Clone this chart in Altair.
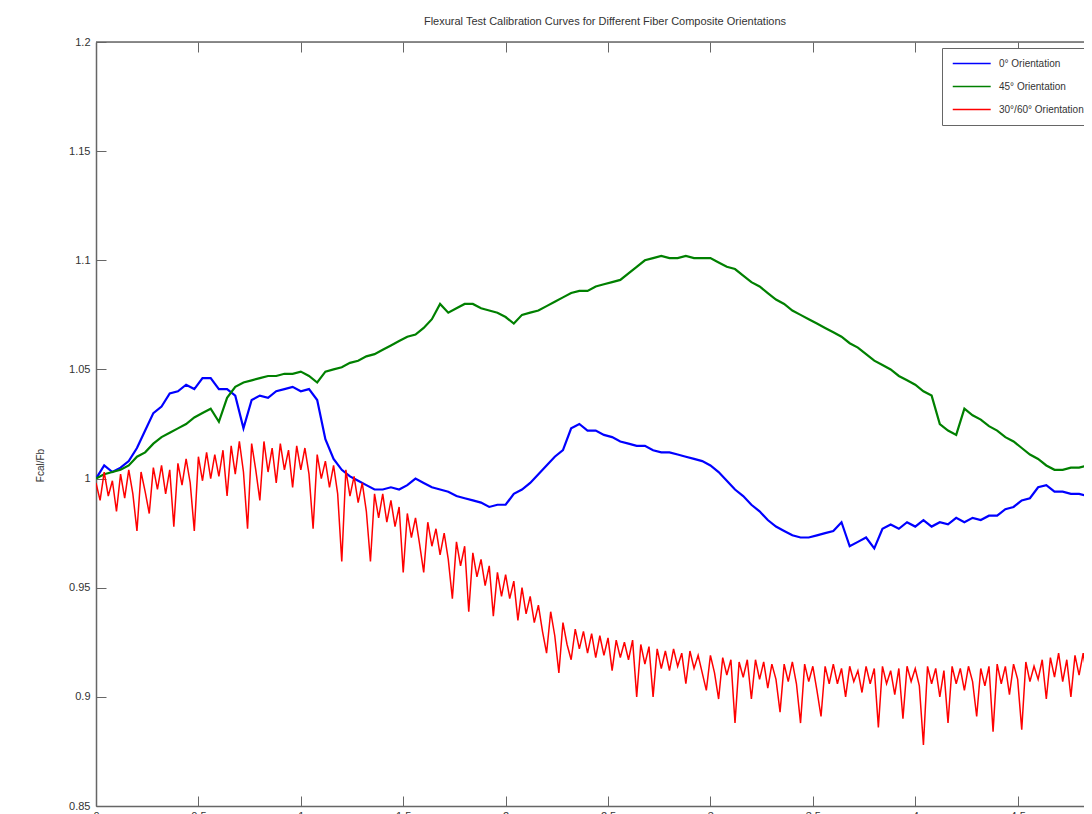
import altair as alt
import pandas as pd

TITLE = "Flexural Test Calibration Curves for Different Fiber Composite Orientations"
Y_TITLE = "Fcal/Fb"
SERIES = ["0° Orientation", "45° Orientation", "30°/60° Orientation"]
COLORS = ["#0000ff", "#008000", "#ff0000"]
Y_TICKS = [0.85, 0.9, 0.95, 1.0, 1.05, 1.1, 1.15, 1.2]
X_TICKS = [0, 0.5, 1, 1.5, 2, 2.5, 3, 3.5, 4, 4.5]
X_DOMAIN = [0, 4.824]
Y_DOMAIN = [0.85, 1.2]

BLUE_STEP = 0.04
blue = [
    1.000, 1.006, 1.003, 1.005, 1.008, 1.014, 1.022, 1.030, 1.033, 1.039,
    1.040, 1.043, 1.041, 1.046, 1.046, 1.041, 1.041, 1.038, 1.023, 1.036,
    1.038, 1.037, 1.040, 1.041, 1.042, 1.040, 1.041, 1.036, 1.018, 1.009,
    1.004, 1.001, 0.999, 0.997, 0.995, 0.995, 0.996, 0.995, 0.997, 1.000,
    0.998, 0.996, 0.995, 0.994, 0.992, 0.991, 0.990, 0.989, 0.987, 0.988,
    0.988, 0.993, 0.995, 0.998, 1.002, 1.006, 1.010, 1.013, 1.023, 1.025,
    1.022, 1.022, 1.020, 1.019, 1.017, 1.016, 1.015, 1.015, 1.013, 1.012,
    1.012, 1.011, 1.010, 1.009, 1.008, 1.006, 1.003, 0.999, 0.995, 0.992,
    0.988, 0.985, 0.981, 0.978, 0.976, 0.974, 0.973, 0.973, 0.974, 0.975,
    0.976, 0.980, 0.969, 0.971, 0.973, 0.968, 0.977, 0.979, 0.977, 0.980,
    0.978, 0.981, 0.978, 0.980, 0.979, 0.982, 0.980, 0.982, 0.981, 0.983,
    0.983, 0.986, 0.987, 0.990, 0.991, 0.996, 0.997, 0.994, 0.994, 0.993,
    0.993, 0.992, 0.992, 0.992, 0.991,
]

GREEN_STEP = 0.04
green = [
    1.000, 1.002, 1.003, 1.004, 1.006, 1.010, 1.012, 1.016, 1.019, 1.021,
    1.023, 1.025, 1.028, 1.030, 1.032, 1.026, 1.037, 1.042, 1.044, 1.045,
    1.046, 1.047, 1.047, 1.048, 1.048, 1.049, 1.047, 1.044, 1.049, 1.050,
    1.051, 1.053, 1.054, 1.056, 1.057, 1.059, 1.061, 1.063, 1.065, 1.066,
    1.069, 1.073, 1.080, 1.076, 1.078, 1.080, 1.080, 1.078, 1.077, 1.076,
    1.074, 1.071, 1.075, 1.076, 1.077, 1.079, 1.081, 1.083, 1.085, 1.086,
    1.086, 1.088, 1.089, 1.090, 1.091, 1.094, 1.097, 1.100, 1.101, 1.102,
    1.101, 1.101, 1.102, 1.101, 1.101, 1.101, 1.099, 1.097, 1.096, 1.093,
    1.090, 1.088, 1.085, 1.082, 1.080, 1.077, 1.075, 1.073, 1.071, 1.069,
    1.067, 1.065, 1.062, 1.060, 1.057, 1.054, 1.052, 1.050, 1.047, 1.045,
    1.043, 1.040, 1.038, 1.025, 1.022, 1.020, 1.032, 1.029, 1.027, 1.024,
    1.022, 1.019, 1.017, 1.014, 1.011, 1.009, 1.006, 1.004, 1.004, 1.005,
    1.005, 1.006, 1.006, 1.007, 1.007,
]

RED_STEP = 0.02
red = [
    0.998, 0.990, 1.003, 0.992, 0.999, 0.985, 1.002, 0.991, 1.004, 0.993,
    0.976, 1.003, 0.994, 0.984, 1.005, 0.995, 1.006, 0.993, 1.004, 0.978,
    1.007, 0.997, 1.009, 0.998, 0.976, 1.010, 0.999, 1.012, 1.000, 1.011,
    1.001, 1.013, 0.992, 1.015, 1.002, 1.017, 1.003, 0.977, 1.016, 1.004,
    0.990, 1.017, 1.003, 1.014, 0.998, 1.016, 1.004, 1.013, 0.996, 1.015,
    1.004, 1.014, 1.002, 0.977, 1.011, 1.000, 1.008, 0.996, 1.006, 0.993,
    0.962, 1.004, 0.992, 1.001, 0.989, 0.998, 0.985, 0.962, 0.993, 0.982,
    0.993, 0.980, 0.990, 0.978, 0.987, 0.957, 0.984, 0.973, 0.982, 0.970,
    0.957, 0.980, 0.969, 0.977, 0.965, 0.975, 0.963, 0.945, 0.971, 0.960,
    0.969, 0.939, 0.966, 0.955, 0.963, 0.951, 0.960, 0.937, 0.957, 0.946,
    0.956, 0.945, 0.953, 0.935, 0.950, 0.938, 0.946, 0.934, 0.942, 0.930,
    0.920, 0.939, 0.928, 0.911, 0.934, 0.924, 0.917, 0.931, 0.922, 0.930,
    0.920, 0.929, 0.918, 0.928, 0.919, 0.927, 0.912, 0.926, 0.918, 0.925,
    0.917, 0.926, 0.900, 0.924, 0.915, 0.923, 0.900, 0.922, 0.913, 0.921,
    0.912, 0.922, 0.914, 0.920, 0.906, 0.921, 0.913, 0.919, 0.911, 0.903,
    0.919, 0.911, 0.899, 0.918, 0.910, 0.917, 0.888, 0.916, 0.909, 0.917,
    0.899, 0.917, 0.908, 0.916, 0.904, 0.915, 0.908, 0.893, 0.915, 0.907,
    0.916, 0.906, 0.888, 0.915, 0.907, 0.914, 0.903, 0.891, 0.914, 0.906,
    0.915, 0.906, 0.913, 0.900, 0.914, 0.907, 0.912, 0.902, 0.914, 0.906,
    0.913, 0.886, 0.914, 0.906, 0.912, 0.901, 0.913, 0.890, 0.914, 0.907,
    0.913, 0.905, 0.878, 0.914, 0.906, 0.913, 0.900, 0.912, 0.888, 0.914,
    0.906, 0.913, 0.903, 0.914, 0.907, 0.891, 0.913, 0.905, 0.914, 0.884,
    0.915, 0.906, 0.914, 0.901, 0.915, 0.908, 0.885, 0.916, 0.907, 0.914,
    0.908, 0.917, 0.899, 0.918, 0.909, 0.920, 0.907, 0.917, 0.900, 0.919,
    0.910, 0.920, 0.908, 0.918, 0.905, 0.919, 0.910, 0.917, 0.909, 0.918,
]

rows = []
for name, step, vals in [(SERIES[0], BLUE_STEP, blue),
                         (SERIES[1], GREEN_STEP, green),
                         (SERIES[2], RED_STEP, red)]:
    for i, v in enumerate(vals):
        rows.append({"x": round(i * step, 4), "y": v, "series": name, "order": i})
df = pd.DataFrame(rows)

FONT = "Liberation Sans"
AX = "#666666"
TXT = "#333333"

x_scale = alt.Scale(domain=X_DOMAIN, nice=False, zero=False)
y_scale = alt.Scale(domain=Y_DOMAIN, nice=False, zero=False)

x_axis = alt.Axis(values=X_TICKS, format=".1~f", ticks=False, domain=True,
                  domainColor=AX, domainWidth=1.5, grid=True, gridColor=AX,
                  gridWidth=1, gridDash=[10, 744, 10, 5000], labelPadding=4,
                  labelFontSize=11, labelColor=TXT, labelFont=FONT,
                  labelFlush=False, title=None)
y_axis = alt.Axis(values=Y_TICKS, format=".2~f", ticks=False, domain=True,
                  domainColor=AX, domainWidth=1.5, grid=True, gridColor=AX,
                  gridWidth=1, gridDash=[10, 5000], labelPadding=6,
                  labelFontSize=11, labelColor=TXT, labelFont=FONT,
                  title=Y_TITLE, titleX=-56, titleY=423, titleAngle=270,
                  titleBaseline="middle", titleAlign="center", titleFontSize=10,
                  titleFontWeight="normal", titleColor=TXT, titleFont=FONT)

legend = alt.Legend(title=None, orient="none", legendX=846, legendY=6,
                    symbolType="M-1,0H7", symbolSize=90, symbolStrokeWidth=1.5,
                    labelOffset=36, rowPadding=12, padding=10,
                    strokeColor=AX, fillColor="white", labelFont=FONT,
                    labelFontSize=10, labelColor=TXT)

color = alt.Color("series:N", scale=alt.Scale(domain=SERIES, range=COLORS),
                  legend=legend)


def line(name, width):
    return (
        alt.Chart(df)
        .transform_filter(alt.datum.series == name)
        .mark_line(strokeWidth=width, clip=True)
        .encode(
            x=alt.X("x:Q", scale=x_scale, axis=x_axis),
            y=alt.Y("y:Q", scale=y_scale, axis=y_axis),
            color=color,
            order="order:Q",
        )
    )


top_border = (
    alt.Chart(alt.Data(values=[{}]))
    .mark_rule(color=AX, strokeWidth=1.5)
    .encode(y=alt.YDatum(Y_DOMAIN[1], scale=y_scale, axis=y_axis))
)

chart = (
    alt.layer(line(SERIES[0], 2.2), line(SERIES[1], 2.2), line(SERIES[2], 1.5), top_border)
    .properties(
        width=988,
        height=764,
        autosize=alt.AutoSizeParams(type="none"),
        padding={"left": 88, "top": 34, "right": 0, "bottom": 16},
        title=alt.Title(TITLE, fontSize=11, fontWeight="normal", color=TXT,
                        font=FONT, offset=9, dx=15, anchor="middle"),
    )
    .configure_view(stroke=None)
    .configure(font=FONT)
)

chart.save("out.html", embed_options={"renderer": "svg", "actions": False})
